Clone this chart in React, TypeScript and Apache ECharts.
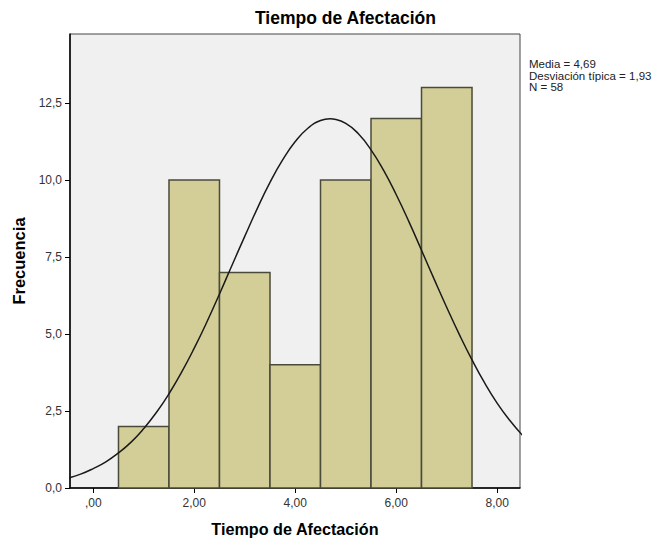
import React, { useEffect, useRef } from "react";
import * as echarts from "echarts";

const binStarts = [0.5, 1.5, 2.5, 3.5, 4.5, 5.5, 6.5];
const binEnds = [1.5, 2.5, 3.5, 4.5, 5.5, 6.5, 7.5];
const counts = [2, 10, 7, 4, 10, 12, 13];

const curveX = [
  -0.5, -0.25, 0, 0.25, 0.5, 0.75, 1, 1.25, 1.5, 1.75, 2, 2.25, 2.5, 2.75, 3,
  3.25, 3.5, 3.75, 4, 4.25, 4.5, 4.69, 4.75, 5, 5.25, 5.5, 5.75, 6, 6.25, 6.5,
  6.75, 7, 7.25, 7.5, 7.75, 8, 8.25, 8.5,
];
const curveY = [
  0.32, 0.45, 0.63, 0.85, 1.14, 1.49, 1.93, 2.45, 3.06, 3.76, 4.54, 5.39, 6.3,
  7.24, 8.17, 9.08, 9.92, 10.65, 11.25, 11.68, 11.93, 11.99, 11.98, 11.84,
  11.5, 10.98, 10.31, 9.52, 8.65, 7.72, 6.78, 5.86, 4.98, 4.16, 3.41, 2.75,
  2.19, 1.71,
];

const xTicks = [0, 2, 4, 6, 8];
const yTicks = [0, 2.5, 5, 7.5, 10, 12.5];

const titleText = "Tiempo de Afectación";
const xName = "Tiempo de Afectación";
const yName = "Frecuencia";
const statsLines = ["Media = 4,69", "Desviación típica = 1,93", "N = 58"];

const FONT = "'Liberation Sans', Arial, sans-serif";

export default function App() {
  const ref = useRef<HTMLDivElement>(null);
  useEffect(() => {
    if (!ref.current) return;
    const chart = echarts.init(ref.current, undefined, { renderer: "svg" });
    const barData = binStarts.map((s, i) => [s, binEnds[i], counts[i]]);
    const lineData = curveX.map((x, i) => [x, curveY[i]]);
    chart.setOption({
      animation: false,
      backgroundColor: "#ffffff",
      textStyle: { fontFamily: FONT },
      title: {
        text: titleText,
        left: 255,
        top: 9,
        padding: 0,
        textStyle: {
          fontFamily: FONT,
          fontSize: 17.5,
          fontWeight: "bold",
          color: "#000",
        },
      },
      grid: {
        left: 70,
        top: 34,
        right: 138,
        bottom: 54,
        show: true,
        backgroundColor: "#f0f0f0",
        borderColor: "#444",
        borderWidth: 1,
      },
      xAxis: {
        type: "value",
        min: -0.46,
        max: 8.45,
        name: xName,
        nameLocation: "middle",
        nameGap: 33,
        nameTextStyle: {
          fontFamily: FONT,
          fontSize: 16.2,
          fontWeight: "bold",
          color: "#000",
        },
        axisLine: { show: true, onZero: false, lineStyle: { color: "#000", width: 1.5 } },
        axisTick: {
          show: true,
          inside: false,
          length: 5,
          customValues: xTicks,
          lineStyle: { color: "#000", width: 1 },
        },
        axisLabel: {
          customValues: xTicks,
          fontFamily: FONT,
          fontSize: 12,
          color: "#333",
          margin: 9,
          formatter: (v: number) =>
            v === 0 ? ",00" : v.toFixed(2).replace(".", ","),
        },
        splitLine: { show: false },
      },
      yAxis: {
        type: "value",
        min: 0,
        max: 14.74,
        name: yName,
        nameLocation: "middle",
        nameGap: 41,
        nameTextStyle: {
          fontFamily: FONT,
          fontSize: 16.5,
          fontWeight: "bold",
          color: "#000",
        },
        axisLine: { show: true, onZero: false, lineStyle: { color: "#000", width: 1.5 } },
        axisTick: {
          show: true,
          inside: false,
          length: 5,
          customValues: yTicks,
          lineStyle: { color: "#000", width: 1 },
        },
        axisLabel: {
          customValues: yTicks,
          fontFamily: FONT,
          fontSize: 12,
          color: "#333",
          margin: 8,
          formatter: (v: number) => v.toFixed(1).replace(".", ","),
        },
        splitLine: { show: false },
      },
      graphic: [
        {
          type: "text",
          left: 529,
          top: 58,
          style: {
            text: statsLines.join("\n"),
            fontFamily: FONT,
            fontSize: 11.5,
            lineHeight: 11.5,
            fill: "#222",
          },
        },
      ],
      series: [
        {
          type: "custom",
          data: barData,
          encode: { x: [0, 1], y: 2 },
          z: 2,
          renderItem: (params: any, api: any) => {
            const p0 = api.coord([api.value(0), api.value(2)]);
            const p1 = api.coord([api.value(1), 0]);
            return {
              type: "rect",
              shape: {
                x: p0[0],
                y: p0[1],
                width: p1[0] - p0[0],
                height: p1[1] - p0[1],
              },
              style: {
                fill: "#d3ce98",
                stroke: "#4a4a3a",
                lineWidth: 1.5,
              },
            };
          },
        },
        {
          type: "line",
          data: lineData,
          smooth: true,
          showSymbol: false,
          symbol: "none",
          clip: true,
          z: 5,
          lineStyle: { color: "#1a1a1a", width: 1.5 },
        },
      ],
    });
    return () => chart.dispose();
  }, []);
  return (
    <div
      ref={ref}
      style={{ position: "fixed", left: 0, top: 0, width: 658, height: 542 }}
    />
  );
}
